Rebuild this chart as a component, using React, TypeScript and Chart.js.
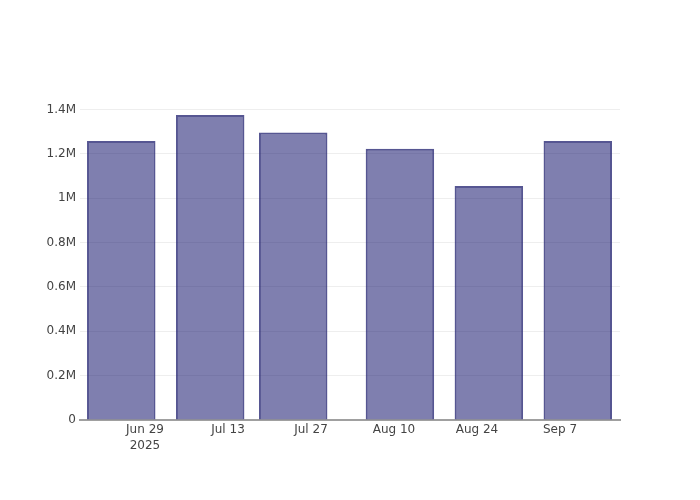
import React, { useEffect, useRef } from "react";
import { Chart, registerables } from "chart.js";

Chart.register(...registerables);

// Day offsets from Jun 29, 2025 (bar dates: Jun 25, Jul 10, Jul 24, Aug 11, Aug 26, Sep 10)
const barDays = [-4, 11, 25, 43, 58, 73];
const barValues = [1258000, 1375000, 1297000, 1223000, 1055000, 1258000];
const xTickDays = [0, 14, 28, 42, 56, 70];
const xTickLabels = ["Jun 29", "Jul 13", "Jul 27", "Aug 10", "Aug 24", "Sep 7"];
const yTickValues = [0, 200000, 400000, 600000, 800000, 1000000, 1200000, 1400000];
const yTickLabels = ["0", "0.2M", "0.4M", "0.6M", "0.8M", "1M", "1.2M", "1.4M"];

export default function App() {
  const ref = useRef<HTMLCanvasElement | null>(null);
  useEffect(() => {
    if (!ref.current) return;
    const chart = new Chart(ref.current, {
      type: "bar",
      data: {
        datasets: [
          {
            data: barDays.map((d, i) => ({ x: d, y: barValues[i] })),
            backgroundColor: "rgba(0,0,95,0.5)",
            borderColor: "rgba(30,30,110,0.75)",
            borderWidth: 2,
            borderSkipped: "bottom",
            barPercentage: 1,
            categoryPercentage: 0.825,
          },
        ],
      },
      options: {
        responsive: false,
        animation: false,
        maintainAspectRatio: false,
        layout: { padding: { left: 0, right: 80, top: 100, bottom: 0 } },
        plugins: { legend: { display: false }, tooltip: { enabled: false } },
        scales: {
          x: {
            type: "linear",
            min: -10.96,
            max: 80.12,
            offset: false,
            grid: { display: false, drawTicks: false },
            border: { display: true, color: "#a0a0a0", width: 2 },
            afterBuildTicks: (s: any) => {
              s.ticks = xTickDays.map((v) => ({ value: v }));
            },
            afterFit: (s: any) => {
              s.height = 80;
            },
            ticks: {
              autoSkip: false,
              maxRotation: 0,
              padding: 2,
              color: "#444",
              font: { family: "'DejaVu Sans', sans-serif", size: 12, lineHeight: 1.3 },
              callback: (v: any) => {
                const i = xTickDays.indexOf(Number(v));
                if (i < 0) return "";
                return i === 0 ? [xTickLabels[i], "2025"] : xTickLabels[i];
              },
            },
          },
          y: {
            min: 0,
            max: 1443000,
            grid: { color: "#eeeeee", lineWidth: 1, drawTicks: false },
            border: { display: false },
            afterBuildTicks: (s: any) => {
              s.ticks = yTickValues.map((v) => ({ value: v }));
            },
            afterFit: (s: any) => {
              s.width = 80;
            },
            ticks: {
              padding: 4,
              color: "#444",
              font: { family: "'DejaVu Sans', sans-serif", size: 12 },
              callback: (v: any) => {
                const i = yTickValues.indexOf(Number(v));
                return i < 0 ? "" : yTickLabels[i];
              },
            },
          },
        },
      },
    });
    return () => chart.destroy();
  }, []);
  return (
    <div style={{ position: "fixed", left: 0, top: 0, width: 700, height: 500, background: "#fff" }}>
      <canvas ref={ref} width={700} height={500} style={{ width: 700, height: 500 }} />
    </div>
  );
}
